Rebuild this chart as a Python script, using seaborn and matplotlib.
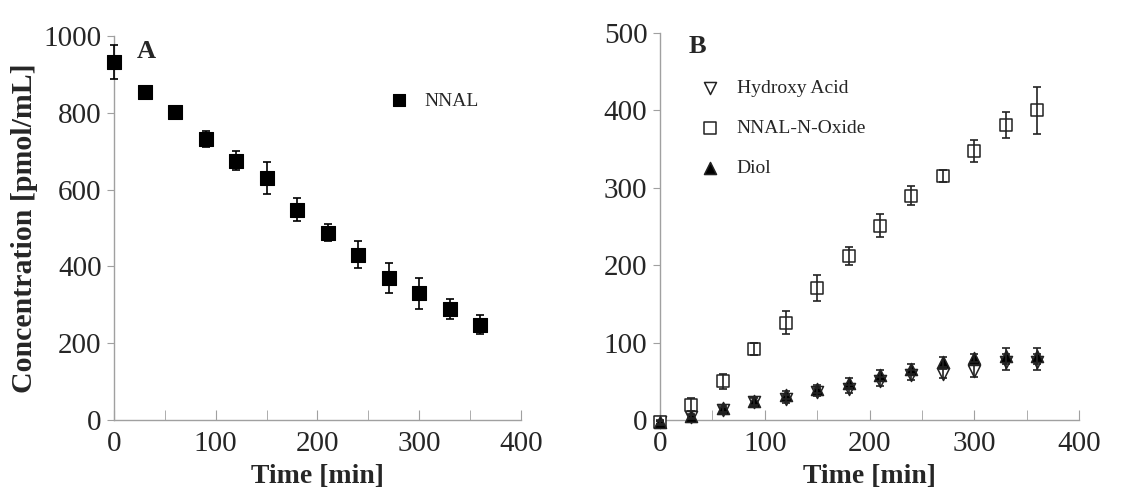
import numpy as np
import pandas as pd
import matplotlib
matplotlib.use("Agg")
import matplotlib.pyplot as plt
import seaborn as sns

# Time points (min)
time = [0, 30, 60, 90, 120, 150, 180, 210, 240, 270, 300, 330, 360]

# Panel A: NNAL
nnal = [932, 855, 803, 732, 675, 630, 547, 488, 430, 370, 330, 289, 248]
nnal_err = [45, 8, 10, 20, 25, 42, 30, 22, 35, 40, 40, 25, 25]

# Panel B: metabolites
hydroxy_acid = [-3, 4, 13, 23, 27, 36, 40, 50, 58, 60, 63, 75, 75]
hydroxy_err = [2, 3, 4, 5, 5, 5, 5, 6, 6, 6, 8, 10, 10]
n_oxide = [-3, 20, 50, 92, 126, 171, 212, 251, 290, 315, 348, 381, 400]
n_oxide_err = [3, 8, 10, 8, 15, 17, 12, 15, 12, 8, 14, 17, 30]
diol = [-3, 5, 15, 25, 32, 40, 48, 58, 66, 75, 80, 83, 83]
diol_err = [2, 3, 4, 5, 5, 5, 6, 7, 7, 7, 5, 10, 10]

sns.set_style("white")
plt.rcParams["font.family"] = ["Liberation Serif", "DejaVu Serif"]

fig = plt.figure(figsize=(11.47, 4.93), dpi=100)
axA = fig.add_axes([0.0994, 0.148, 0.3546, 0.779])
axB = fig.add_axes([0.5754, 0.148, 0.3654, 0.785])

spine_col = "#a0a0a0"


def style_axis(ax, ymax, ystep):
    ax.set_xlim(0, 400)
    ax.set_ylim(0, ymax)
    ax.set_xticks(np.arange(0, 401, 100))
    ax.set_xticks(np.arange(0, 401, 50), minor=True)
    ax.set_yticks(np.arange(0, ymax + 1, ystep))
    for s in ["top", "right"]:
        ax.spines[s].set_visible(False)
    for s in ["left", "bottom"]:
        ax.spines[s].set_color(spine_col)
        ax.spines[s].set_linewidth(1.0)
    ax.tick_params(axis="x", which="both", direction="in", length=7,
                   color=spine_col, labelsize=21, pad=8, bottom=True)
    ax.tick_params(axis="y", direction="out", length=5, color=spine_col,
                   labelsize=21, pad=4, left=True)
    ax.set_xlabel("Time [min]", fontsize=20, fontweight="bold", labelpad=5)


# Panel A
dfA = pd.DataFrame({"Time": time, "Conc": nnal})
sns.scatterplot(data=dfA, x="Time", y="Conc", marker="s", s=95, color="black",
                edgecolor="black", ax=axA, zorder=3, clip_on=False, label="NNAL")
axA.errorbar(time, nnal, yerr=nnal_err, fmt="none", ecolor="black",
             elinewidth=1.2, capsize=3, capthick=1.2, clip_on=False, zorder=4)
style_axis(axA, 1000, 200)
axA.set_ylabel("Concentration [pmol/mL]", fontsize=21.5, fontweight="bold", labelpad=4)
axA.text(22, 960, "A", fontsize=19, fontweight="bold", va="center")
axA.legend(loc="upper left", bbox_to_anchor=(0.61, 0.9), frameon=False,
           fontsize=14, handletextpad=0.3, markerscale=0.9)

# Panel B
series = [
    ("Hydroxy Acid", hydroxy_acid, hydroxy_err, "v", "white"),
    ("NNAL-N-Oxide", n_oxide, n_oxide_err, "s", "white"),
    ("Diol", diol, diol_err, "^", "black"),
]
dfB = pd.DataFrame({
    "Time": time * 3,
    "Conc": hydroxy_acid + n_oxide + diol,
    "Series": ["Hydroxy Acid"] * 13 + ["NNAL-N-Oxide"] * 13 + ["Diol"] * 13,
})
for name, vals, err, mk, fc in series:
    sub = dfB[dfB["Series"] == name]
    size = 85 if mk == "s" else 75
    sns.scatterplot(data=sub, x="Time", y="Conc", marker=mk, s=size, color=fc,
                    edgecolor="#222222", linewidth=1.1, ax=axB, zorder=3,
                    clip_on=False, label=name)
for name, vals, err, mk, fc in series:
    axB.errorbar(time, vals, yerr=err, fmt="none", ecolor="#222222",
                 elinewidth=1.2, capsize=3, capthick=1.2, clip_on=False, zorder=4)
style_axis(axB, 500, 100)
axB.set_ylabel("")
axB.text(27, 482, "B", fontsize=19, fontweight="bold", va="center")
axB.legend(loc="upper left", bbox_to_anchor=(0.03, 0.925), frameon=False,
           fontsize=14, handletextpad=0.4, labelspacing=1.15, markerscale=1.0)

fig.savefig("out.png", dpi=100)
